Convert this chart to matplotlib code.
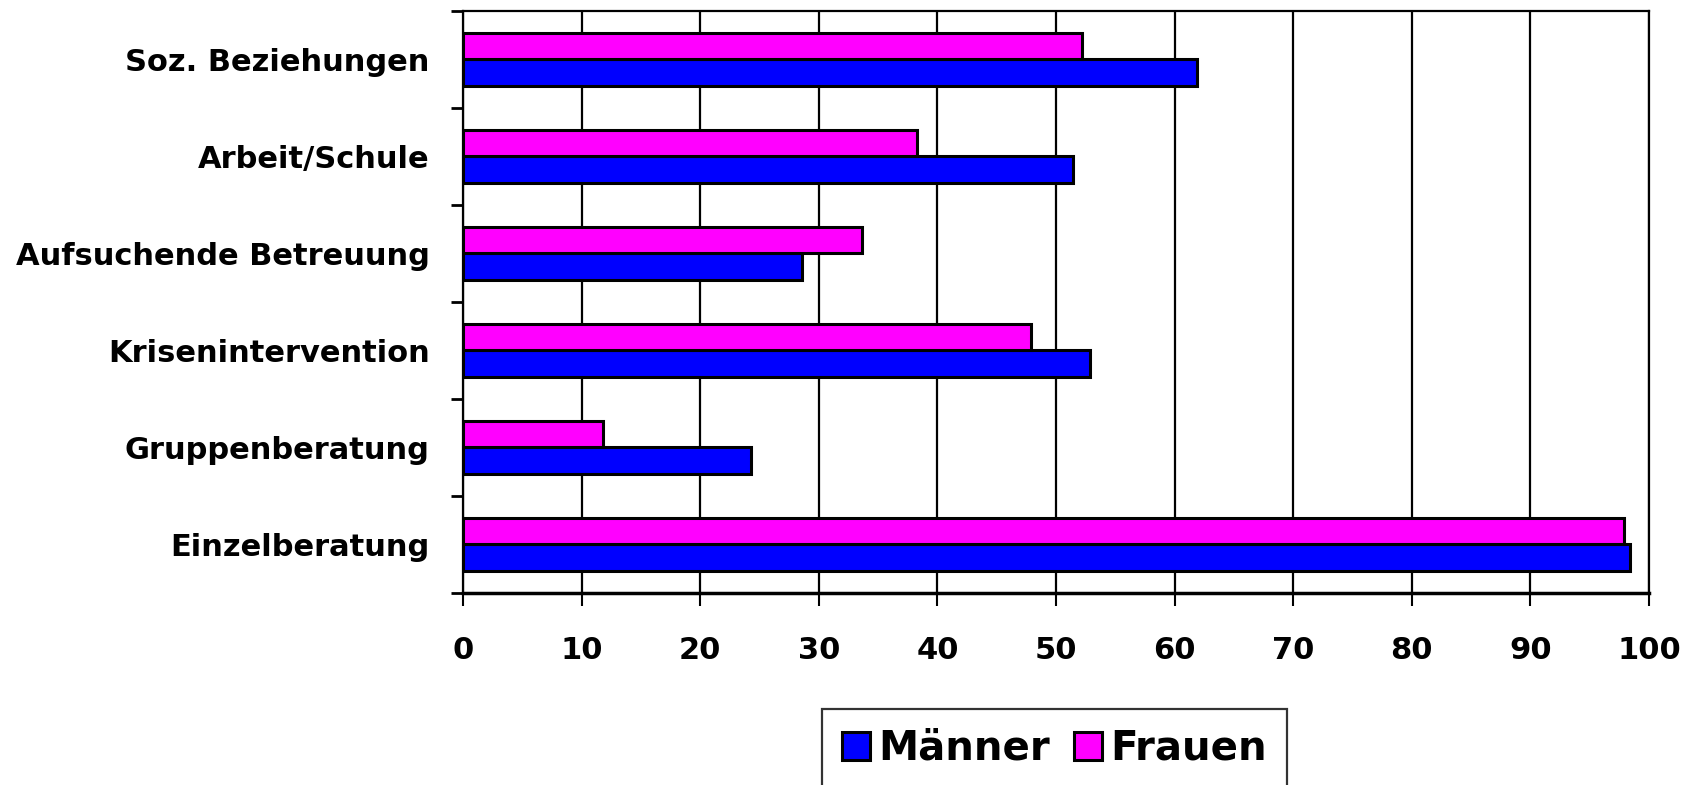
import matplotlib
matplotlib.use("Agg")
import matplotlib.pyplot as plt
import numpy as np
from matplotlib.ticker import FixedLocator

categories = ["Einzelberatung", "Gruppenberatung", "Krisenintervention",
              "Aufsuchende Betreuung", "Arbeit/Schule", "Soz. Beziehungen"]
maenner = [98.4, 24.3, 52.9, 28.6, 51.4, 61.9]
frauen = [97.9, 11.8, 47.9, 33.6, 38.3, 52.2]
x_ticks = [0, 10, 20, 30, 40, 50, 60, 70, 80, 90, 100]

plt.rcParams["font.family"] = ["DejaVu Sans"]
plt.rcParams["font.weight"] = "bold"

fig = plt.figure(figsize=(16.9, 7.85), dpi=100)
ax = fig.add_axes([0.274, 0.2446, 0.7017, 0.7414])

pos = np.arange(len(categories))
h = 0.27
ax.barh(pos - h / 2, maenner, height=h, color="#0000ff", edgecolor="black",
        linewidth=2.2, label="Männer", zorder=3)
ax.barh(pos + h / 2, frauen, height=h, color="#ff00ff", edgecolor="black",
        linewidth=2.2, label="Frauen", zorder=3)

ax.set_xlim(0, 100)
ax.set_ylim(-0.5, len(categories) - 0.5)
ax.set_xticks(x_ticks)
ax.set_xticklabels([str(t) for t in x_ticks], fontsize=22, fontweight="bold")
ax.set_yticks(pos)
ax.set_yticklabels(categories, fontsize=22, fontweight="bold")
ax.yaxis.set_minor_locator(FixedLocator(np.arange(-0.5, len(categories), 1.0)))

ax.tick_params(axis="y", which="major", length=0, pad=24)
ax.tick_params(axis="y", which="minor", length=9, width=2, direction="out")
ax.tick_params(axis="x", which="major", length=9, width=1.5, direction="out", pad=22)

ax.xaxis.grid(True, color="black", linewidth=1.6, zorder=0)
ax.set_axisbelow(True)
for side in ["left", "top", "right"]:
    ax.spines[side].set_linewidth(1.6)
ax.spines["bottom"].set_linewidth(2.5)

leg = fig.legend(loc="upper center", bbox_to_anchor=(0.624, 0.123), ncol=2,
                 prop={"size": 29, "weight": "bold"}, frameon=True, fancybox=False,
                 edgecolor="black", handlelength=0.7, handleheight=0.7,
                 handletextpad=0.2, columnspacing=0.6, borderpad=0.5)
leg.get_frame().set_linewidth(1.6)

fig.savefig("out.png", dpi=100)
